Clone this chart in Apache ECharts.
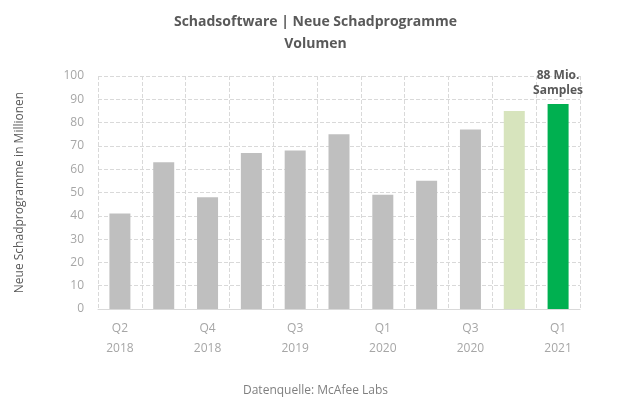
<!DOCTYPE html>
<html><head><meta charset="utf-8">
<script src="https://cdn.jsdelivr.net/npm/echarts@6/dist/echarts.min.js"></script>
<style>html,body{margin:0;background:#fff}#c{width:631px;height:420px}</style>
</head><body><div id="c"></div>
<script>
const categories = ['Q2\n2018','','Q4\n2018','','','Q3\n2019','','Q1\n2020','','Q3\n2020','Q1\n2021'];
const values = [41,63,48,67,68,75,49,55,77,85,88];
const yTicks = {min:0,max:100,interval:10};
const colors = ['#bfbfbf','#bfbfbf','#bfbfbf','#bfbfbf','#bfbfbf','#bfbfbf','#bfbfbf','#bfbfbf','#bfbfbf','#d7e4bd','#00b050'];
const labelsAxis = ['Q2\n2018','','Q4\n2018','','Q3\n2019','','Q1\n2020','','Q3\n2020','','Q1\n2021'];
const chart = echarts.init(document.getElementById('c'));
const ff = "'Open Sans', sans-serif";
chart.setOption({
  animation:false,
  title:{text:'Schadsoftware | Neue Schadprogramme\nVolumen',left:'center',top:6,
    textStyle:{fontFamily:ff,fontSize:14,fontWeight:'bold',color:'#595959',lineHeight:22}},
  graphic:[{type:'text',left:'center',top:385,style:{text:'Datenquelle: McAfee Labs',font:"12px 'Open Sans'",fill:'#7f7f7f'}}],
  grid:{left:98,right:51,top:76,bottom:111},
  xAxis:{type:'category',data:labelsAxis,
    axisLine:{lineStyle:{color:'#d9d9d9'}},axisTick:{show:false},
    axisLabel:{interval:0,color:'#a6a6a6',fontFamily:ff,fontSize:12,lineHeight:20,margin:10},
    splitLine:{show:true,lineStyle:{color:'#d9d9d9',type:'dashed'}}},
  yAxis:{type:'value',min:yTicks.min,max:yTicks.max,interval:yTicks.interval,
    name:'Neue Schadprogramme in Millionen',nameLocation:'middle',nameGap:72,
    nameTextStyle:{color:'#595959',fontFamily:ff,fontSize:12},
    axisLine:{show:false},axisTick:{show:false},
    axisLabel:{color:'#a6a6a6',fontFamily:ff,fontSize:12,margin:14},
    splitLine:{lineStyle:{color:'#d9d9d9',type:'dashed'}}},
  series:[{type:'bar',barWidth:21,
    data:values.map((v,i)=>({value:v,itemStyle:{color:colors[i]},
      label:i===values.length-1?{show:true,position:'top',distance:6,formatter:'88 Mio.\nSamples',
        color:'#595959',fontWeight:'bold',fontFamily:ff,fontSize:12,lineHeight:15}:{show:false}}))}]
});
</script></body></html>
